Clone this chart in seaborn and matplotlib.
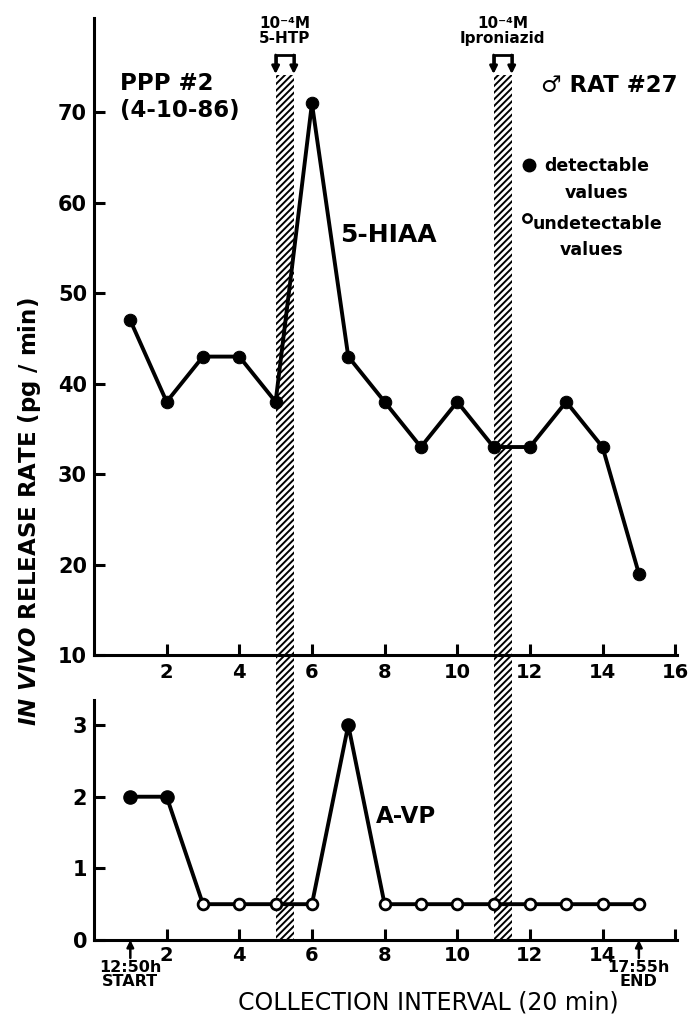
import numpy as np
import pandas as pd
import matplotlib
matplotlib.use("Agg")
import matplotlib.pyplot as plt
import seaborn as sns
from matplotlib.transforms import blended_transform_factory
from matplotlib.patches import Rectangle

# ---------------- data ----------------
interval = list(range(1, 16))
hiaa = [47, 38, 43, 43, 38, 71, 43, 38, 33, 38, 33, 33, 38, 33, 19]
avp = [2, 2, 0.5, 0.5, 0.5, 0.5, 3, 0.5, 0.5, 0.5, 0.5, 0.5, 0.5, 0.5, 0.5]
avp_detectable = [True, True, False, False, False, False, True,
                  False, False, False, False, False, False, False, False]

top_xticks = [2, 4, 6, 8, 10, 12, 14, 16]
top_yticks = [10, 20, 30, 40, 50, 60, 70]
bottom_xticks = [2, 4, 6, 8, 10, 12, 14, 16]
bottom_xticklabels = ["2", "4", "6", "8", "10", "12", "14", ""]
bottom_yticks = [0, 1, 2, 3]

treat_start = [5, 11]
treat_end = [5.5, 11.5]
treat_labels = ["10⁻⁴M\n5-HTP", "10⁻⁴M\nIproniazid"]

start_label = "12:50h\nSTART"
end_label = "17:55h\nEND"
start_x, end_x = 1, 15

df_top = pd.DataFrame({"interval": interval, "rate": hiaa})
df_bot = pd.DataFrame({"interval": interval, "rate": avp, "detect": avp_detectable})

# ---------------- style ----------------
sns.set_style("ticks")
plt.rcParams["font.family"] = ["DejaVu Sans"]
plt.rcParams["font.weight"] = "bold"
plt.rcParams["text.color"] = "black"
plt.rcParams["axes.labelcolor"] = "black"
plt.rcParams["xtick.color"] = "black"
plt.rcParams["ytick.color"] = "black"
plt.rcParams["mathtext.fontset"] = "custom"
plt.rcParams["mathtext.it"] = "DejaVu Sans:italic:bold"
plt.rcParams["mathtext.rm"] = "DejaVu Sans:bold"
plt.rcParams["hatch.linewidth"] = 1.4
plt.rcParams["hatch.color"] = "black"

W, H = 693, 1023
fig = plt.figure(figsize=(W / 100, H / 100), dpi=100)
fig.patch.set_facecolor("white")

left = 94 / W
right_px = 677
ax1 = fig.add_axes([left, 1 - 655 / H, (right_px - 94) / W, (655 - 17.5) / H])
ax2 = fig.add_axes([left, 1 - 940 / H, (right_px - 94) / W, (940 - 700) / H])

LW = 2.8
for ax in (ax1, ax2):
    ax.set_facecolor("none")
    for s in ("top", "right"):
        ax.spines[s].set_visible(False)
    for s in ("left", "bottom"):
        ax.spines[s].set_linewidth(2.2)
        ax.spines[s].set_color("black")
    ax.tick_params(direction="in", length=8, width=2.2, colors="black",
                   labelsize=15, pad=5)
    ax.set_xlim(0, 16.05)

# ---- top panel ----
sns.lineplot(data=df_top, x="interval", y="rate", ax=ax1, color="black",
             lw=LW, marker="o", markersize=9, markeredgecolor="black",
             zorder=3)
ax1.set_ylim(10, 80.5)
ax1.set_xticks(top_xticks)
ax1.set_yticks(top_yticks)
ax1.tick_params(axis="x", labelsize=14, pad=6)
ax1.set_xlabel("")
ax1.set_ylabel("")

# ---- bottom panel ----
sns.lineplot(data=df_bot, x="interval", y="rate", ax=ax2, color="black",
             lw=LW, zorder=3)
det = df_bot[df_bot["detect"]]
undet = df_bot[~df_bot["detect"]]
sns.scatterplot(data=det, x="interval", y="rate", ax=ax2, color="black",
                s=90, edgecolor="black", linewidth=1, zorder=4)
sns.scatterplot(data=undet, x="interval", y="rate", ax=ax2, color="white",
                s=60, edgecolor="black", linewidth=2, zorder=4)
ax2.set_ylim(0, 3.35)
ax2.set_xticks(bottom_xticks)
ax2.set_xticklabels(bottom_xticklabels)
ax2.set_yticks(bottom_yticks)
ax2.tick_params(axis="x", labelsize=14, pad=4)
ax2.set_xlabel("COLLECTION INTERVAL (20 min)", fontsize=17,
               fontweight="normal", labelpad=19, x=(428 - 94) / 583)
ax2.set_ylabel("")

# start / end markers
btrans = blended_transform_factory(ax2.transData, ax2.transAxes)
for xv, lab in ((start_x, start_label), (end_x, end_label)):
    ax2.annotate("", xy=(xv, 0), xycoords=btrans,
                 xytext=(xv, -0.075), textcoords=btrans,
                 arrowprops=dict(arrowstyle="-|>", lw=1.8, color="black",
                                 mutation_scale=10, shrinkA=0, shrinkB=0),
                 annotation_clip=False)
    ax2.text(xv, -0.085, lab, transform=btrans,
             ha="center", va="top", fontsize=11.5, linespacing=0.85)

# ---- treatment hatched bars spanning both panels ----
trans = blended_transform_factory(ax1.transData, fig.transFigure)
y_bot = 1 - 940 / H
y_top = 1 - 75 / H
for x0, x1, lab in zip(treat_start, treat_end, treat_labels):
    rect = Rectangle((x0, y_bot), x1 - x0, y_top - y_bot, transform=trans,
                     facecolor="white", edgecolor="black", linewidth=0,
                     hatch="/////", zorder=-1)
    fig.add_artist(rect)
    top_y = 1 - 55 / H
    tip_y = 1 - 74 / H
    ax1.plot([x0, x0, x1, x1], [tip_y + 0.006, top_y, top_y, tip_y + 0.006],
             transform=trans, color="black", lw=2, clip_on=False,
             solid_joinstyle="miter")
    for xv in (x0, x1):
        ax1.annotate("", xy=(xv, tip_y), xycoords=trans,
                     xytext=(xv, top_y), textcoords=trans,
                     arrowprops=dict(arrowstyle="-|>", lw=2, color="black",
                                     mutation_scale=11, shrinkA=0, shrinkB=0),
                     annotation_clip=False)
    ax1.text((x0 + x1) / 2, 1 - 31 / H, lab, transform=trans, ha="center",
             va="center", fontsize=11, linespacing=0.95)

# ---- annotations ----
def yfrac(py):
    return (655 - py) / 637.5

def xfrac(px):
    return (px - 94) / 583

ax1.text(xfrac(120), yfrac(84), "PPP #2", transform=ax1.transAxes,
         fontsize=16.5, va="center", ha="left")
ax1.text(xfrac(120), yfrac(111), "(4-10-86)", transform=ax1.transAxes,
         fontsize=16.5, va="center", ha="left")
ax1.text(xfrac(678), yfrac(86), "♂ RAT #27",
         transform=ax1.transAxes, fontsize=16.5, va="center", ha="right")
ax1.text(6.77, 56.4, "5-HIAA", fontsize=18, va="center", ha="left")
ax2.text(7.75, 1.72, "A-VP", fontsize=16.5, va="center", ha="left")

# legend-like key
ax1.plot([xfrac(529)], [yfrac(165)], "o", color="black", markersize=9,
         transform=ax1.transAxes, clip_on=False)
ax1.text(xfrac(544), yfrac(166), "detectable", transform=ax1.transAxes,
         fontsize=12.5, va="center", ha="left")
ax1.text(xfrac(597), yfrac(193), "values", transform=ax1.transAxes,
         fontsize=12.5, va="center", ha="center")
ax1.plot([xfrac(527)], [yfrac(218)], "o", color="black", markersize=6,
         markerfacecolor="white", markeredgewidth=1.8,
         transform=ax1.transAxes, clip_on=False)
ax1.text(xfrac(533), yfrac(224), "undetectable", transform=ax1.transAxes,
         fontsize=12.5, va="center", ha="left")
ax1.text(xfrac(592), yfrac(250), "values", transform=ax1.transAxes,
         fontsize=12.5, va="center", ha="center")

# y label spanning both panels
fig.text(30 / W, 1 - 512 / H, r"$\mathit{IN\ VIVO}$ RELEASE RATE (pg / min)",
         rotation=90, ha="center", va="center", fontsize=16.5)

fig.savefig("out.png", dpi=100, facecolor="white")
